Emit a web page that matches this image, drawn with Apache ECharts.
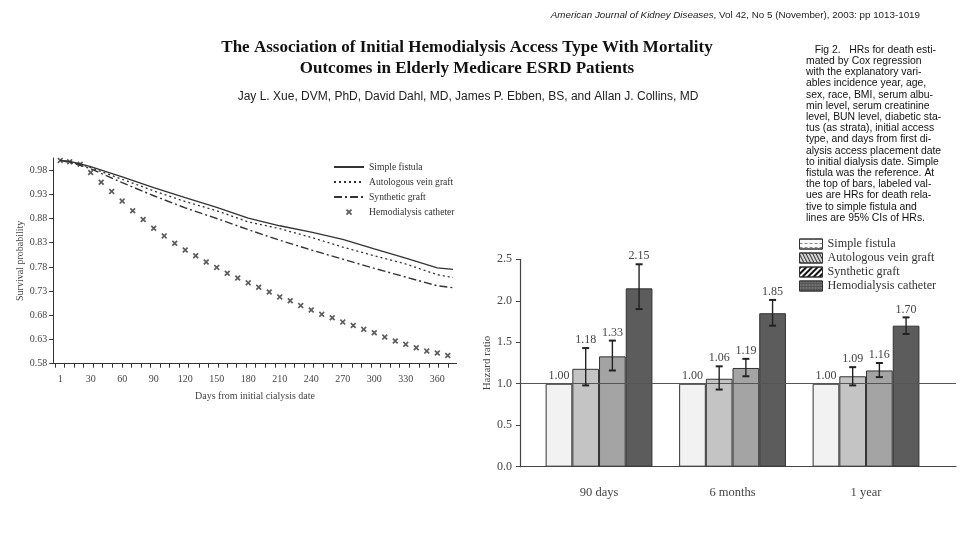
<!DOCTYPE html>
<html>
<head>
<meta charset="utf-8">
<script src="https://cdn.jsdelivr.net/npm/echarts@6/dist/echarts.min.js"></script>
<style>
html,body{margin:0;padding:0;background:#fff;}
#chart{width:960px;height:540px;}
</style>
</head>
<body>
<div id="chart"></div>
<script>
// ---------- Left chart: survival curves ----------
const lineDays = [1, 10, 20, 30, 60, 90, 120, 150, 180, 210, 240, 270, 300, 330, 360, 375];
const survSimple = [1.000, 0.998, 0.993, 0.987, 0.966, 0.944, 0.923, 0.903, 0.881, 0.865, 0.852, 0.837, 0.817, 0.798, 0.778, 0.775];
const survAutologous = [1.000, 0.997, 0.992, 0.985, 0.961, 0.937, 0.915, 0.896, 0.873, 0.859, 0.841, 0.821, 0.803, 0.786, 0.764, 0.758];
const survSynthetic = [1.000, 0.996, 0.990, 0.983, 0.954, 0.927, 0.902, 0.880, 0.857, 0.835, 0.815, 0.796, 0.777, 0.759, 0.741, 0.737];
const catheterDays = [1, 10, 20, 30, 40, 50, 60, 70, 80, 90, 100, 110, 120, 130, 140, 150, 160, 170, 180, 190,
  200, 210, 220, 230, 240, 250, 260, 270, 280, 290, 300, 310, 320, 330, 340, 350, 360, 370];
const survCatheter = [1.000, 0.997, 0.992, 0.975, 0.955, 0.936, 0.916, 0.896, 0.878, 0.860, 0.844, 0.829, 0.815, 0.803,
  0.790, 0.779, 0.767, 0.757, 0.747, 0.738, 0.728, 0.718, 0.710, 0.700, 0.691, 0.682, 0.675, 0.666, 0.659, 0.651,
  0.644, 0.635, 0.627, 0.620, 0.613, 0.606, 0.602, 0.597];
const xLabelDays = [1, 30, 60, 90, 120, 150, 180, 210, 240, 270, 300, 330, 360];
const xTickDays = [-4, 5, 14, 23, 32, 41, 51, 60, 69, 78, 87, 96, 105, 114, 123, 133, 142, 151, 160, 169, 178,
  187, 196, 206, 215, 224, 233, 242, 251, 260, 269, 279, 288, 297, 306, 315, 324, 333, 343, 352, 361, 370];
const yTicksSurv = [0.58, 0.63, 0.68, 0.73, 0.78, 0.83, 0.88, 0.93, 0.98];

// ---------- Right chart: hazard ratios ----------
const periods = ['90 days', '6 months', '1 year'];
const periodPos = [1, 2, 3];
const hrSimple = [1.00, 1.00, 1.00];
const hrAutologous = [1.18, 1.06, 1.09];
const ciAutologousLo = [0.98, 0.93, 0.98];
const ciAutologousHi = [1.43, 1.21, 1.20];
const hrSynthetic = [1.33, 1.19, 1.16];
const ciSyntheticLo = [1.16, 1.09, 1.08];
const ciSyntheticHi = [1.52, 1.30, 1.25];
const hrCatheter = [2.15, 1.85, 1.70];
const ciCatheterLo = [1.90, 1.70, 1.60];
const ciCatheterHi = [2.44, 2.01, 1.80];

const SERIF = '"Liberation Serif", "DejaVu Serif", serif';
const SANS = '"Liberation Sans", Arial, sans-serif';
const BW = 26.7;

const pair = (xs, ys) => xs.map((x, i) => [x, ys[i]]);

function errSeries(name, hr, lo, hi, idx, extra) {
  const off = (idx - 1.5) * BW;
  return Object.assign({
    name: name + ' CI',
    type: 'custom',
    xAxisIndex: 1, yAxisIndex: 1,
    z: 5,
    data: periodPos.map((p, i) => [p, lo[i], hi[i], hr[i]]),
    renderItem: function (params, api) {
      const x = api.value(0);
      const top = api.coord([x, api.value(2)]);
      const bot = api.coord([x, api.value(1)]);
      const px = top[0] + off;
      const st = { stroke: '#222', lineWidth: 1.4 };
      return {
        type: 'group',
        children: [
          { type: 'line', shape: { x1: px, y1: top[1], x2: px, y2: bot[1] }, style: st },
          { type: 'line', shape: { x1: px - 3.5, y1: top[1], x2: px + 3.5, y2: top[1] }, style: { stroke: '#222', lineWidth: 2 } },
          { type: 'line', shape: { x1: px - 3.5, y1: bot[1], x2: px + 3.5, y2: bot[1] }, style: { stroke: '#222', lineWidth: 2 } },
          { type: 'text', x: px, y: top[1] - 2, style: { text: api.value(3).toFixed(2), align: 'center', verticalAlign: 'bottom', font: '12px ' + SERIF, fill: '#444' } }
        ]
      };
    }
  }, extra || {});
}

const xMark = 'path://M0,2L2,0L5,3L8,0L10,2L7,5L10,8L8,10L5,7L2,10L0,8L3,5Z';
const xMarkLegend = 'path://M0,0L0.05,0L0,0.05Z M16,16L15.95,16L16,15.95Z M3,5L5,3L8,6L11,3L13,5L10,8L13,11L11,13L8,10L5,13L3,11L6,8Z';
const hiddenSym = { color: 'rgba(0,0,0,0)', borderColor: 'rgba(0,0,0,0)', borderWidth: 0 };

const option = {
  animation: false,
  backgroundColor: '#fff',
  graphic: [
    { type: 'text', x: 920, y: 15, style: { text: '{i|American Journal of Kidney Diseases}, Vol 42, No 5 (November), 2003: pp 1013-1019', align: 'right', verticalAlign: 'middle', font: '9.8px ' + SANS, fill: '#222', rich: { i: { fontStyle: 'italic', fontSize: 9.8, fontFamily: SANS, fill: '#222' } } } },
    { type: 'text', x: 467, y: 48, style: { text: 'The Association of Initial Hemodialysis Access Type With Mortality', align: 'center', verticalAlign: 'middle', font: 'bold 17px ' + SERIF, fill: '#111' } },
    { type: 'text', x: 467, y: 69, style: { text: 'Outcomes in Elderly Medicare ESRD Patients', align: 'center', verticalAlign: 'middle', font: 'bold 17px ' + SERIF, fill: '#111' } },
    { type: 'text', x: 468, y: 97, style: { text: 'Jay L. Xue, DVM, PhD, David Dahl, MD, James P. Ebben, BS, and Allan J. Collins, MD', align: 'center', verticalAlign: 'middle', font: '12px ' + SANS, fill: '#222' } },
    { type: 'text', x: 806, y: 44.4, style: {
        text: '   Fig 2.   HRs for death esti-\nmated by Cox regression\nwith the explanatory vari-\nables incidence year, age,\nsex, race, BMI, serum albu-\nmin level, serum creatinine\nlevel, BUN level, diabetic sta-\ntus (as strata), initial access\ntype, and days from first di-\nalysis access placement date\nto initial dialysis date. Simple\nfistula was the reference. At\nthe top of bars, labeled val-\nues are HRs for death rela-\ntive to simple fistula and\nlines are 95% CIs of HRs.',
        align: 'left', verticalAlign: 'top', font: '10.4px ' + SANS, lineHeight: 11.2, fill: '#111' } }
  ],
  legend: [
    {
      orient: 'vertical', left: 333, top: 162, padding: 0, itemWidth: 30, itemHeight: 10, itemGap: 5,
      textStyle: { fontFamily: SERIF, fontSize: 9.6, color: '#333', lineHeight: 10 },
      data: [
        { name: 'Simple fistula', itemStyle: hiddenSym },
        { name: 'Autologous vein graft', itemStyle: hiddenSym },
        { name: 'Synthetic graft', itemStyle: hiddenSym },
        { name: 'Hemodialysis catheter', icon: xMarkLegend }
      ]
    },
    {
      orient: 'vertical', left: 799, top: 238, padding: 0, itemWidth: 23, itemHeight: 10, itemGap: 2,
      icon: 'rect',
      textStyle: { fontFamily: SERIF, fontSize: 12.2, color: '#333', lineHeight: 10 },
      data: [
        { name: 'Simple fistula ', itemStyle: { color: '#fafafa', borderColor: '#333', borderWidth: 1, decal: { symbol: 'rect', symbolSize: 1, color: '#888', dashArrayX: [[3, 2]], dashArrayY: [1, 2.5], rotation: 0 } } },
        { name: 'Autologous vein graft ', itemStyle: { color: '#d8d8d8', borderColor: '#333', borderWidth: 1, decal: { symbol: 'rect', symbolSize: 1, color: '#333', dashArrayX: [[1, 0]], dashArrayY: [1, 2], rotation: 1.1 } } },
        { name: 'Synthetic graft ', itemStyle: { color: '#f4f4f4', borderColor: '#333', borderWidth: 1, decal: { symbol: 'rect', symbolSize: 1, color: '#111', dashArrayX: [[1, 0]], dashArrayY: [2, 2], rotation: -Math.PI / 4 } } },
        { name: 'Hemodialysis catheter ', itemStyle: { color: '#555', borderColor: '#333', borderWidth: 1, decal: { symbol: 'circle', symbolSize: 0.7, color: '#aaa', dashArrayX: [2, 1], dashArrayY: [2, 1] } } }
      ]
    }
  ],
  grid: [
    { left: 53.3, right: 503.3, top: 158, bottom: 176.3, containLabel: false },
    { left: 520, right: 4, top: 259.3, bottom: 73.3, containLabel: false }
  ],
  xAxis: [
    {
      gridIndex: 0, type: 'value', min: -5.6, max: 378.5,
      axisLine: { onZero: false, lineStyle: { color: '#333', width: 1 } },
      splitLine: { show: false },
      axisTick: { customValues: xTickDays, length: 4, lineStyle: { color: '#333' } },
      axisLabel: { customValues: xLabelDays, fontFamily: SERIF, fontSize: 10, color: '#444', margin: 11 },
      name: 'Days from initial cialysis date', nameLocation: 'middle', nameGap: 28,
      nameTextStyle: { fontFamily: SERIF, fontSize: 10, color: '#444' }
    },
    {
      gridIndex: 1, type: 'value', min: 0.408, max: 3.674,
      axisLine: { onZero: false, lineStyle: { color: '#444', width: 1.2 } },
      splitLine: { show: false },
      axisTick: { show: false },
      axisLabel: { customValues: periodPos, formatter: v => periods[Math.round(v) - 1], fontFamily: SERIF, fontSize: 12.5, color: '#444', margin: 20 }
    }
  ],
  yAxis: [
    {
      gridIndex: 0, type: 'value', min: 0.58, max: 1.005,
      axisLine: { show: true, onZero: false, lineStyle: { color: '#333', width: 1 } },
      splitLine: { show: false },
      axisTick: { show: true, customValues: yTicksSurv, length: 4, lineStyle: { color: '#333' } },
      axisLabel: { customValues: yTicksSurv, formatter: v => v.toFixed(2), fontFamily: SERIF, fontSize: 10, color: '#444', margin: 6 },
      name: 'Survival probability', nameLocation: 'middle', nameGap: 28,
      nameTextStyle: { fontFamily: SERIF, fontSize: 10, color: '#444' }
    },
    {
      gridIndex: 1, type: 'value', min: 0, max: 2.5, interval: 0.5,
      axisLine: { show: true, onZero: false, lineStyle: { color: '#444', width: 1.2 } },
      splitLine: { show: false },
      axisTick: { show: true, length: 4, lineStyle: { color: '#444' } },
      axisLabel: { formatter: v => v.toFixed(1), fontFamily: SERIF, fontSize: 12, color: '#444', margin: 8 },
      name: 'Hazard ratio', nameLocation: 'middle', nameGap: 27,
      nameTextStyle: { fontFamily: SERIF, fontSize: 11, color: '#444' }
    }
  ],
  series: [
    { name: 'Simple fistula', type: 'line', xAxisIndex: 0, yAxisIndex: 0, data: pair(lineDays, survSimple), symbol: 'none', lineStyle: { color: '#333', width: 1.3, type: 'solid' }, itemStyle: { color: '#333' } },
    { name: 'Autologous vein graft', type: 'line', xAxisIndex: 0, yAxisIndex: 0, data: pair(lineDays, survAutologous), symbol: 'none', lineStyle: { color: '#333', width: 1.3, type: [2, 3] }, itemStyle: { color: '#333' } },
    { name: 'Synthetic graft', type: 'line', xAxisIndex: 0, yAxisIndex: 0, data: pair(lineDays, survSynthetic), symbol: 'none', lineStyle: { color: '#333', width: 1.4, type: [8, 3, 2, 3] }, itemStyle: { color: '#333' } },
    { name: 'Hemodialysis catheter', type: 'scatter', xAxisIndex: 0, yAxisIndex: 0, data: pair(catheterDays, survCatheter), symbol: xMark, symbolSize: 6, itemStyle: { color: '#333' } },

    { name: 'Simple fistula ', type: 'bar', xAxisIndex: 1, yAxisIndex: 1, barWidth: BW, barGap: '0%', data: pair(periodPos, hrSimple), itemStyle: { color: '#f2f2f2', borderColor: '#333', borderWidth: 1 },
      label: { show: true, position: 'top', distance: 2, formatter: p => p.value[1].toFixed(2), fontFamily: SERIF, fontSize: 12, color: '#444' } },
    { name: 'Autologous vein graft ', type: 'bar', xAxisIndex: 1, yAxisIndex: 1, barWidth: BW, barGap: '0%', data: pair(periodPos, hrAutologous), itemStyle: { color: '#c4c4c4', borderColor: '#333', borderWidth: 1 } },
    { name: 'Synthetic graft ', type: 'bar', xAxisIndex: 1, yAxisIndex: 1, barWidth: BW, barGap: '0%', data: pair(periodPos, hrSynthetic), itemStyle: { color: '#a4a4a4', borderColor: '#333', borderWidth: 1 } },
    { name: 'Hemodialysis catheter ', type: 'bar', xAxisIndex: 1, yAxisIndex: 1, barWidth: BW, barGap: '0%', data: pair(periodPos, hrCatheter), itemStyle: { color: '#5c5c5c', borderColor: '#333', borderWidth: 1 } },

    errSeries('Autologous vein graft', hrAutologous, ciAutologousLo, ciAutologousHi, 1),
    errSeries('Synthetic graft', hrSynthetic, ciSyntheticLo, ciSyntheticHi, 2),
    errSeries('Hemodialysis catheter', hrCatheter, ciCatheterLo, ciCatheterHi, 3, {
      markLine: { silent: true, symbol: 'none', label: { show: false }, lineStyle: { color: '#555', width: 1.2, type: 'solid' }, data: [{ yAxis: 1 }] }
    })
  ]
};

const chart = echarts.init(document.getElementById('chart'), null, { renderer: 'canvas' });
chart.setOption(option);
</script>
</body>
</html>
